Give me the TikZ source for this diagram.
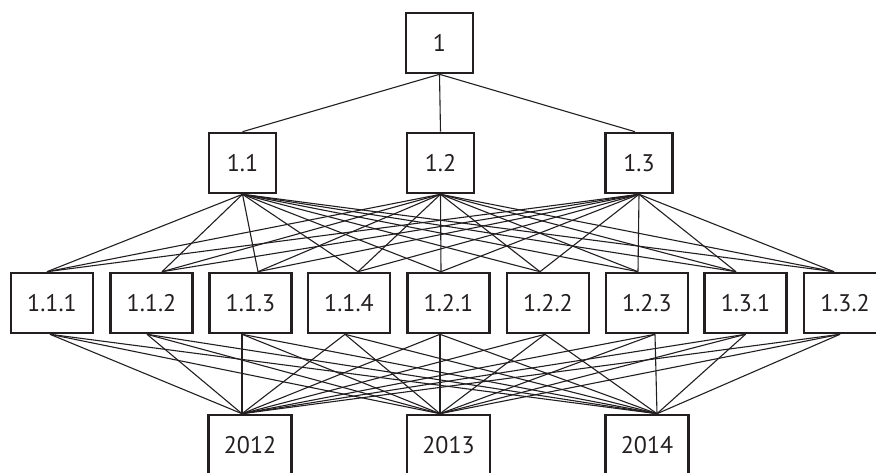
\documentclass[tikz,border=0pt]{standalone}
\usepackage{fontspec}
\setmainfont{PT Sans}
\usetikzlibrary{backgrounds}
\definecolor{ink}{HTML}{231F20}
\begin{document}
\begin{tikzpicture}[x=1pt,y=-1pt,
  conn/.style={line width=1.1pt,draw=ink},
  nbox/.style={draw=ink,line width=2.6pt,fill=white,text=ink,inner sep=0pt,
     minimum height=60pt,font=\fontsize{24}{24}\selectfont},
  topbox/.style={nbox,minimum width=67pt},
  midbox/.style={nbox,minimum width=82pt},
  yearbox/.style={nbox,minimum width=83pt}]
\useasboundingbox (0,0) rectangle (876,473);
% level 1 and 2
\node[topbox] (n1) at (439.5,43) {1};
\node[topbox] (n11) at (242.5,163) {1.1};
\node[topbox] (n12) at (440.5,163) {1.2};
\node[topbox] (n13) at (639,163) {1.3};
% level 3
\node[midbox] (n111) at (52,303) {1.1.1};
\node[midbox] (n112) at (151.5,303) {1.1.2};
\node[midbox] (n113) at (250.5,303) {1.1.3};
\node[midbox] (n114) at (349,303) {1.1.4};
\node[midbox] (n121) at (448.5,303) {1.2.1};
\node[midbox] (n122) at (548,303) {1.2.2};
\node[midbox] (n123) at (647,303) {1.2.3};
\node[midbox] (n131) at (745.5,303) {1.3.1};
\node[midbox] (n132) at (845,303) {1.3.2};
% level 4
\node[yearbox] (y12) at (250,445) {2012};
\node[yearbox] (y13) at (448.5,445) {2013};
\node[yearbox] (y14) at (647,445) {2014};
% convergence points
\foreach \n/\t/\b in {n111/-5/-2,n112/10.5/-4.5,n113/7.5/-8.5,n114/9/-4,
   n121/-7.5/-8.5,n122/-8/-3,n123/-9/8,n131/-9.5/0,n132/-11/-5}{
  \coordinate (\n t) at ([xshift=\t pt]\n.north);
  \coordinate (\n b) at ([xshift=\b pt]\n.south);
}
\coordinate (n13t) at ([xshift=-4pt]n13.north);
\coordinate (y12t) at ([xshift=-8pt]y12.north);
\coordinate (y13t) at ([xshift=-8.5pt]y13.north);
\coordinate (y14t) at ([xshift=10pt]y14.north);
\begin{scope}[on background layer]
  \draw[conn] (n1.south) -- (n11.north);
  \draw[conn] (n1.south) -- (n12.north);
  \draw[conn] (n1.south) -- (n13t);
  \foreach \m in {n11,n12,n13}{
    \foreach \n in {n111,n112,n113,n114,n121,n122,n123,n131,n132}{
      \draw[conn] (\m.south) -- (\n t);
    }
  }
  \foreach \n in {n111,n112,n113,n114,n121,n122,n123,n131,n132}{
    \foreach \y in {y12,y13,y14}{
      \draw[conn] (\n b) -- (\y t);
    }
  }
\end{scope}
\end{tikzpicture}
\end{document}
